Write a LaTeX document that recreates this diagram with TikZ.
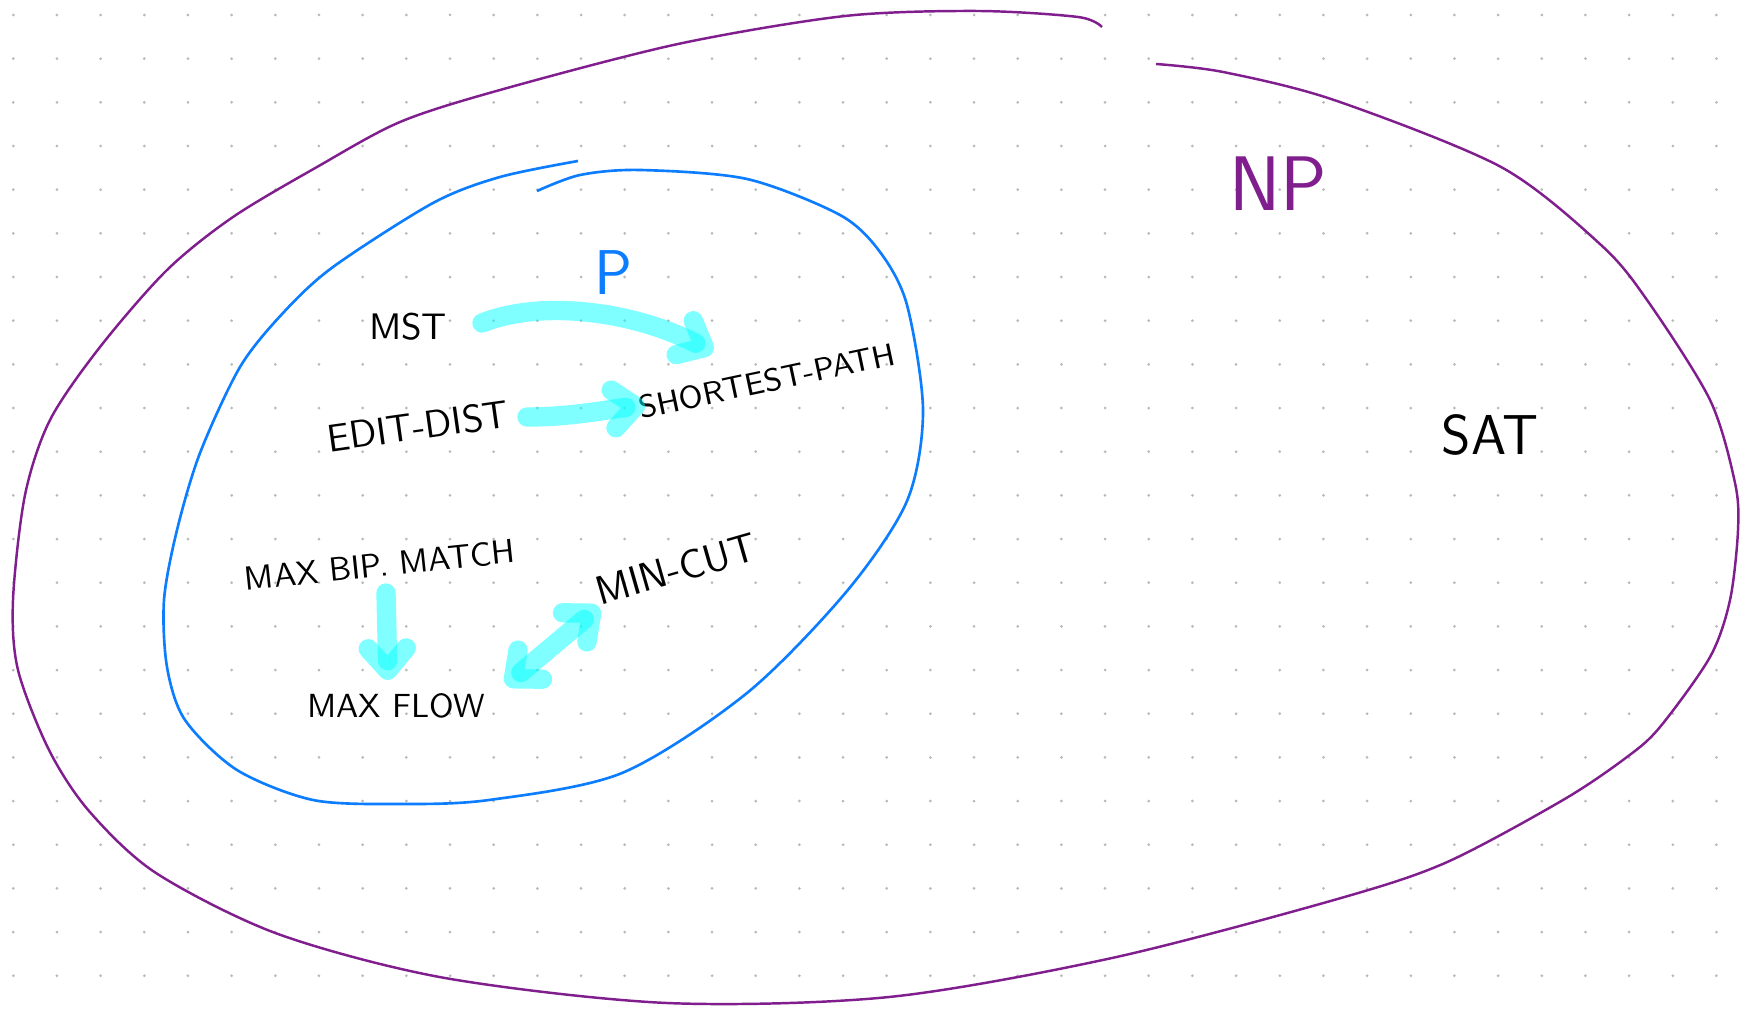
\documentclass[tikz,border=0pt]{standalone}
\usepackage{fontspec}
\usepackage{tikz}
\usetikzlibrary{arrows.meta}
\definecolor{npcol}{RGB}{128,30,142}
\definecolor{pcol}{RGB}{12,125,255}
\definecolor{dotcol}{RGB}{185,185,185}
\definecolor{redcol}{RGB}{0,255,255}
\tikzset{
  lab/.style={font=\sffamily\fontsize{#1}{#1}\selectfont, inner sep=0pt},
  reduz/.style={redcol, draw opacity=0.5, line width=5.5pt, line cap=round, line join=round,
    -{Straight Barb[length=2.2mm, width=3.8mm, round]}},
}
\begin{document}
\begin{tikzpicture}[x=0.01cm, y=-0.01cm]
% foglio a puntini
\fill[white] (0,0) rectangle (1743,1013);
\useasboundingbox (0,0) rectangle (1743,1013);
\foreach \i in {0,...,39}
  \foreach \j in {0,...,22}
    \fill[dotcol] (13.3+43.67*\i, 15+43.67*\j) circle (1.5);

% classe NP
\draw[npcol, line width=0.7pt] plot[smooth] coordinates {
  (1156,64) (1223,72) (1334,100) (1501,167) (1601,245) (1647,300) (1710,400)
  (1735,483) (1738,530) (1730,600) (1710,657) (1660,727) (1627,757) (1563,800)
  (1445,863) (1334,900) (1112,958) (889,997) (667,1003) (445,978) (278,934)
  (156,873) (89,811) (49,750) (18,670) (13,600) (25,495) (50,420) (100,347)
  (167,270) (233,217) (317,167) (400,122) (500,90) (678,44) (845,16) (978,11)
  (1078,17) (1102,27)};
% classe P
\draw[pcol, line width=0.75pt] plot[smooth] coordinates {
  (578,161) (500,177) (433,203) (333,267) (283,313) (240,367) (200,453)
  (177,530) (164,600) (167,667) (185,720) (237,770) (313,800) (400,804)
  (489,800) (622,773) (747,693) (847,591) (907,501) (923,411) (907,305)
  (880,252) (840,215) (747,179) (640,170) (580,175) (537,191)};

% etichette
\node[lab=22, npcol] (np) at (1278,184) {NP};
\node[lab=18, pcol] (p) at (613,273) {P};
\node[lab=16] (sat) at (1490,435) {SAT};
\node[lab=10.5] (mst) at (408,327) {MST};
\node[lab=11, rotate=8] (ed) at (418,426) {EDIT-DIST};
\node[lab=9, rotate=12] (sp) at (767,381) {SHORTEST-PATH};
\node[lab=9.5, rotate=6] (mbm) at (380,565) {MAX BIP. MATCH};
\node[lab=9.5] (mf) at (396,706) {MAX FLOW};
\node[lab=11.5, rotate=16] (mc) at (676,569) {MIN-CUT};

% riduzioni
\coordinate (mst-s) at (482,323);
\coordinate (sp-a) at (713,352);
\coordinate (ed-s) at (527,417);
\coordinate (sp-b) at (645,405);
\coordinate (mbm-s) at (386,593);
\coordinate (mf-a) at (388,680);
\coordinate (mf-b) at (506,685);
\coordinate (mc-a) at (599,607);
\draw[reduz] (mst-s) .. controls (540,300) and (630,310) .. (sp-a);
\draw[reduz] (ed-s) .. controls (570,417) and (605,410) .. (sp-b);
\draw[reduz] (mbm-s) -- (mf-a);
\draw[reduz, {Straight Barb[length=2.2mm, width=3.8mm, round]}-{Straight Barb[length=2.2mm, width=3.8mm, round]}] (mf-b) -- (mc-a);
\end{tikzpicture}
\end{document}
